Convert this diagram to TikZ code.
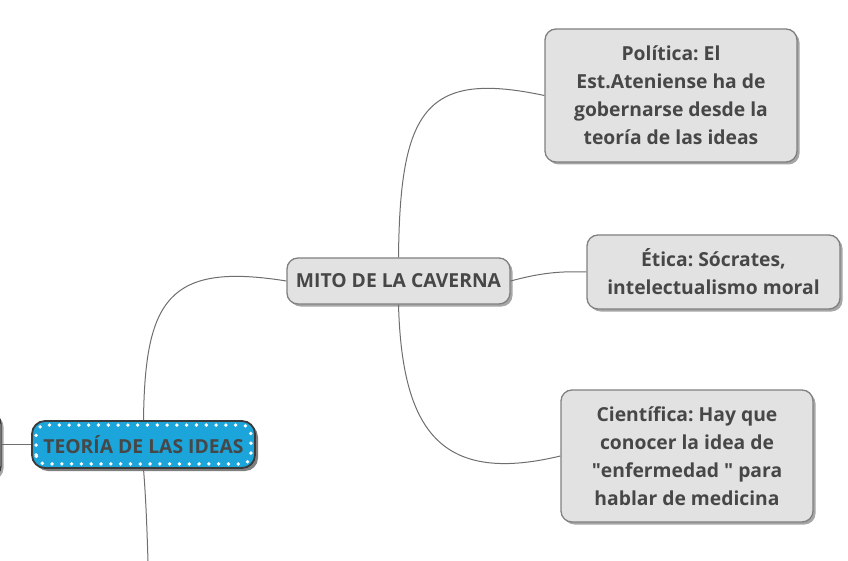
\documentclass[tikz,border=0pt]{standalone}
\usepackage{fontspec}
\setmainfont{Open Sans}
\usetikzlibrary{shadows,calc}
\definecolor{txt}{HTML}{474747}
\definecolor{leaffill}{HTML}{E2E2E2}
\definecolor{leafdraw}{HTML}{808080}
\definecolor{conn}{HTML}{6E6E6E}
\definecolor{mainblue}{HTML}{1BA5DA}
\definecolor{maindraw}{HTML}{3A3A3A}
\newcommand{\sq}{\XeTeXglyph\XeTeXcharglyph"22\relax}
\tikzset{
  leaf/.style={draw=leafdraw, fill=leaffill, line width=1.3pt, rounded corners=11pt,
    inner sep=0pt, align=center, text=txt,
    font=\bfseries\fontsize{19.3}{28}\selectfont,
    drop shadow={shadow xshift=2.5pt, shadow yshift=-2.5pt, fill=black, opacity=0.35}},
  mainnode/.style={draw=maindraw, fill=mainblue, line width=1.8pt, rounded corners=13pt,
    inner sep=0pt, align=center, text=txt,
    font=\bfseries\fontsize{19.3}{28}\selectfont,
    drop shadow={shadow xshift=3pt, shadow yshift=-3pt, fill=black, opacity=0.5}},
  conn/.style={draw=conn, line width=1pt},
  dots/.style={draw=white, line width=3.8pt, dash pattern=on 0pt off 9.8pt, line cap=round, rounded corners=9pt}
}
\begin{document}
\frenchspacing
\begin{tikzpicture}[x=1pt,y=-1pt]
\useasboundingbox (0,0) rectangle (848,561);
% partial node at left edge
\node[leaf, draw=maindraw, minimum width=200pt, minimum height=64pt] (prev) at (-99,445) {};
% main nodes
\node[mainnode, minimum width=223pt, minimum height=47pt] (main) at (143.5,444.5) {TEORÍA DE LAS IDEAS};
\draw[dots] ($(main.south west)+(5pt,5pt)$) rectangle ($(main.north east)+(-5pt,-5pt)$);
\node[leaf, minimum width=223pt, minimum height=46pt] (mito) at (398.5,281) {MITO DE LA CAVERNA};
\node[leaf, minimum width=252pt, minimum height=133pt] (pol) at (671,95.5)
  {Política: El\\Est.Ateniense ha de\\gobernarse desde la\\teoría de las ideas};
\node[leaf, minimum width=253pt, minimum height=74pt] (eti) at (713.5,272)
  {Ética: Sócrates,\\intelectualismo moral};
\node[leaf, minimum width=252pt, minimum height=132pt] (cie) at (687,456)
  {Científica: Hay que\\conocer la idea de\\\sq enfermedad \sq{} para\\hablar de medicina};
\coordinate (down) at (148,561);
% connectors
\draw[conn] (prev.east |- main.west) -- (main.west);
\draw[conn] (main.north) .. controls (145,300) and (168,262) .. (mito.west);
\draw[conn] (main.south) .. controls (146,500) and (147,530) .. (down);
\draw[conn] (mito.north) .. controls (400,110) and (425,70) .. (pol.west);
\draw[conn] (mito.east) .. controls (540,273) and (560,271) .. (eti.west);
\draw[conn] (mito.south) .. controls (402,430) and (440,485) .. (cie.west);
\end{tikzpicture}
\end{document}
